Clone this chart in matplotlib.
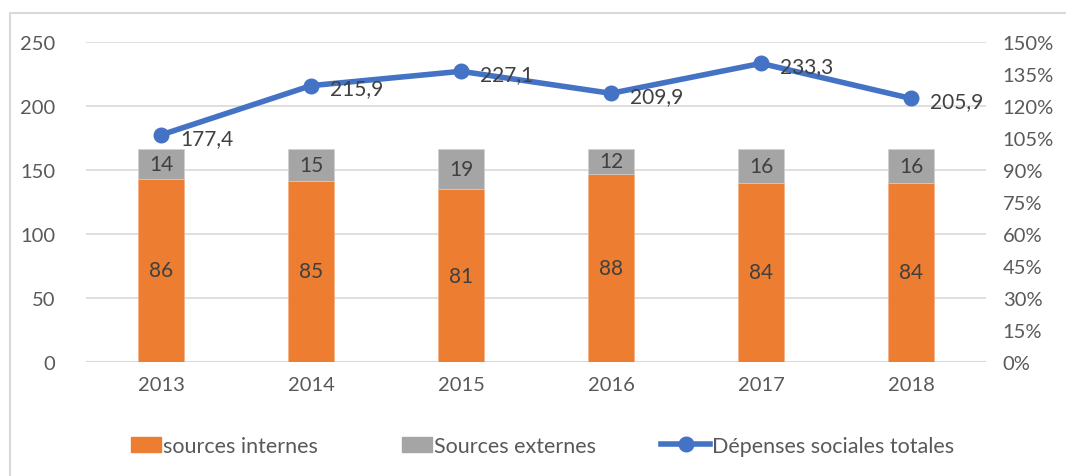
import matplotlib.pyplot as plt
from matplotlib.patches import Rectangle
from matplotlib.lines import Line2D
from matplotlib.legend_handler import HandlerPatch
import numpy as np

plt.rcParams['font.family'] = ['Lato', 'DejaVu Sans']

years = ['2013', '2014', '2015', '2016', '2017', '2018']
internes = [86, 85, 81, 88, 84, 84]
externes = [14, 15, 19, 12, 16, 16]
depenses = [177.4, 215.9, 227.1, 209.9, 233.3, 205.9]

orange = '#ED7D31'
grey = '#A5A5A5'
blue = '#4472C4'
txt = '#404040'
tick_txt = '#595959'
fs = 15

fig = plt.figure(figsize=(10.66, 4.77), dpi=100)
ax = fig.add_axes([86 / 1066, 1 - 363 / 477, 900 / 1066, 320 / 477])
ax2 = ax.twinx()

x = np.arange(len(years))

# total spending on the left scale
ax.plot(x, depenses, color=blue, lw=4, marker='o', ms=10.5, zorder=3)
for xi, v in zip(x, depenses):
    ax.annotate(f'{v:.1f}'.replace('.', ','), (xi, v), xytext=(14, -2),
                textcoords='offset points', va='center', ha='left',
                fontsize=fs, color=txt)

ax.set_ylim(0, 250)
ax.set_yticks(range(0, 251, 50))
ax.set_xlim(-0.5, len(years) - 0.5)
ax.set_xticks(x)
ax.set_xticklabels(years)
ax.grid(axis='y', color='#D9D9D9', lw=1.2)
ax.set_axisbelow(True)

# shares of funding, stacked to 100% on the right scale
w = 0.31
int_frac = np.array(internes) / 100
ext_frac = np.array(externes) / 100
ax2.bar(x, int_frac, w, color=orange, edgecolor='#F4B183', lw=0.5)
ax2.bar(x, ext_frac, w, bottom=int_frac, color=grey, edgecolor='#D0D0D0', lw=0.5)
for xi, a, b in zip(x, int_frac, ext_frac):
    ax2.text(xi, a / 2, f'{int(round(a * 100))}', ha='center', va='center',
             fontsize=fs, color=txt)
    ax2.text(xi, a + b / 2, f'{int(round(b * 100))}', ha='center', va='center',
             fontsize=fs, color=txt)
ax2.set_ylim(0, 1.5)
ax2.set_yticks(np.arange(0, 1.51, 0.15))
ax2.set_yticklabels([f'{int(round(t * 100))}%' for t in np.arange(0, 1.51, 0.15)])

for a in (ax, ax2):
    for s in a.spines.values():
        s.set_visible(False)
    a.tick_params(length=0, labelsize=fs - 0.5, labelcolor=tick_txt)
ax.tick_params(axis='y', pad=22)
ax.tick_params(axis='x', pad=10)
ax2.tick_params(axis='y', pad=12)
ax.axhline(0, color='#D9D9D9', lw=1.5)


def short_patch(legend, orig_handle, xdescent, ydescent, width, height, fontsize):
    # narrower colour box, right-aligned next to its label
    pw = width * 0.6
    return Rectangle((width - pw - xdescent, -ydescent), pw, height)


handles = [
    Rectangle((0, 0), 1, 1, color=orange),
    Rectangle((0, 0), 1, 1, color=grey),
    Line2D([0], [0], color=blue, lw=4, marker='o', ms=10.5),
]
labels = ['sources internes', 'Sources externes', 'Dépenses sociales totales']
fig.legend(handles, labels, loc='center', bbox_to_anchor=(0.5, 1 - 447 / 477),
           ncol=3, frameon=False, fontsize=fs + 0.5, labelcolor=tick_txt,
           handlelength=2.3, handletextpad=0.1, columnspacing=3.0,
           handler_map={Rectangle: HandlerPatch(patch_func=short_patch)})

fig.patches.append(Rectangle((10 / 1066, -0.1), 1.2, 1 - 14 / 477 + 0.1,
                             transform=fig.transFigure, fill=False,
                             edgecolor='#D9D9D9', lw=1.5))

fig.savefig('out.png', dpi=100)
